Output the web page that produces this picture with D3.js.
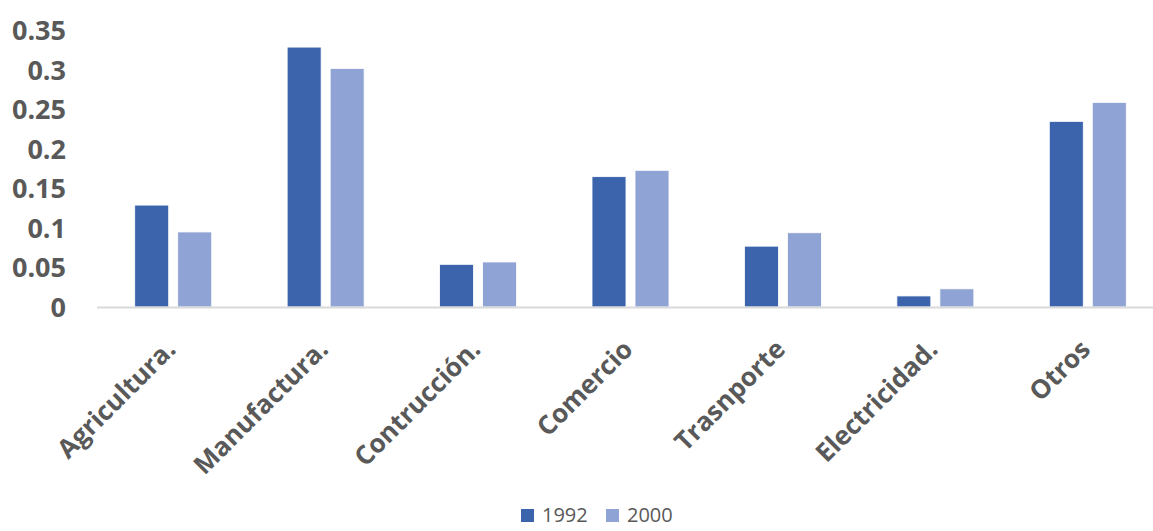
<!DOCTYPE html>
<html>
<head>
<meta charset="utf-8">
<script src="https://cdn.jsdelivr.net/npm/d3@7"></script>
<style>
  body { margin: 0; background: #fff; }
  svg { display: block; font-family: "Open Sans", sans-serif; }
</style>
</head>
<body>
<svg width="1153" height="531"></svg>
<script>
const categories = ["Agricultura.", "Manufactura.", "Contrucción.", "Comercio", "Trasnporte", "Electricidad.", "Otros"];
const years = ["1992", "2000"];
const values1992 = [0.129, 0.329, 0.054, 0.165, 0.077, 0.014, 0.235];
const values2000 = [0.095, 0.302, 0.057, 0.173, 0.094, 0.023, 0.259];
const yTicks = [0, 0.05, 0.1, 0.15, 0.2, 0.25, 0.3, 0.35];
const colors = ["#3c64ad", "#8fa3d4"];

const svg = d3.select("svg");

const x = d3.scaleBand().domain(categories).range([97, 1164]).paddingInner(0).paddingOuter(0);
const xInner = d3.scaleBand().domain(years).range([0, x.bandwidth()]).paddingInner(0.21).paddingOuter(0.877);
const y = d3.scaleLinear().domain([0, 0.35]).range([307, 30.5]);

const rows = categories.map(function(c, i){ return { cat: c, vals: [values1992[i], values2000[i]] } });

// y labels
svg.append("g").selectAll("text")
  .data(yTicks).enter()
  .append("text")
    .attr("x", 66)
    .attr("y", function(d){ return y(d) })
    .attr("dy", "0.36em")
    .attr("text-anchor", "end")
    .attr("fill", "#595959")
    .style("font-size", "27px")
    .style("font-weight", "bold")
    .text(function(d){ return d === 0 ? "0" : String(d) });

// bars
const groups = svg.append("g").selectAll("g")
  .data(rows).enter()
  .append("g")
    .attr("transform", function(d){ return "translate(" + x(d.cat) + ",0)" });

groups.selectAll("rect")
  .data(function(d){ return d.vals.map(function(v, j){ return { year: years[j], v: v, j: j } }) })
  .enter()
  .append("rect")
    .attr("x", function(d){ return xInner(d.year) })
    .attr("width", xInner.bandwidth())
    .attr("y", function(d){ return y(d.v) })
    .attr("height", function(d){ return y(0) - y(d.v) })
    .attr("fill", function(d){ return colors[d.j] })
    .attr("stroke", "#ffffff")
    .attr("stroke-width", 0.8);

// axis line
svg.append("line")
  .attr("x1", 97).attr("x2", 1164)
  .attr("y1", y(0) + 0.5).attr("y2", y(0) + 0.5)
  .attr("stroke", "#d9d9d9")
  .attr("stroke-width", 2);

// x labels
svg.append("g").selectAll("text")
  .data(categories).enter()
  .append("text")
    .attr("transform", function(d){ return "translate(" + (x(d) + x.bandwidth() / 2 + 4) + ",351) rotate(-45)" })
    .attr("text-anchor", "end")
    .attr("fill", "#595959")
    .style("font-size", "26px")
    .style("font-weight", "bold")
    .text(function(d){ return d });

// legend
const legend = svg.append("g").selectAll("g")
  .data(years).enter()
  .append("g")
    .attr("transform", function(d, i){ return "translate(" + (521 + i * 85) + ",509)" });

legend.append("rect")
  .attr("width", 13).attr("height", 13)
  .attr("fill", function(d, i){ return colors[i] });

legend.append("text")
  .attr("x", 21).attr("y", 13)
  .attr("fill", "#595959")
  .style("font-size", "20px")
  .text(function(d){ return d });
</script>
</body>
</html>
